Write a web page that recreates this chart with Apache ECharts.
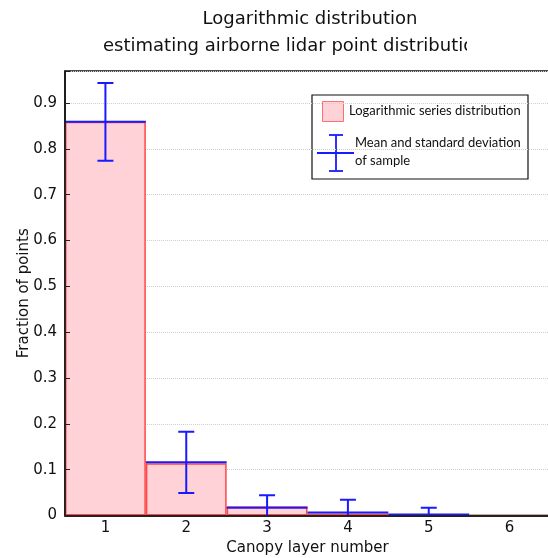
<!DOCTYPE html>
<html>
<head>
<meta charset="utf-8">
<script src="https://cdn.jsdelivr.net/npm/echarts@6/dist/echarts.min.js"></script>
<style>html,body{margin:0;padding:0;background:#fff;}#c{width:548px;height:558px;}</style>
</head>
<body>
<div id="c"></div>
<script>
const categories = ['1', '2', '3', '4', '5', '6'];
const logSeries = [0.859, 0.114, 0.020, 0.0044, 0.0009, 0.0002];
const sampleMean = [0.859, 0.116, 0.017, 0.0065, 0.002];
const sampleStd = [0.085, 0.067, 0.027, 0.028, 0.015];
const titleLine1 = 'Logarithmic distribution';
const titleLine2 = 'estimating airborne lidar point distribution';
const legendLabels = ['Logarithmic series distribution', 'Mean and standard deviation\nof sample'];

const BLUE = '#1a1aff';
const FONT = 'DejaVu Sans';

const chart = echarts.init(document.getElementById('c'), null, {renderer: 'canvas'});

const errData = sampleMean.map((m, i) => [i, m, sampleStd[i]]);

const option = {
  backgroundColor: '#fff',
  animation: false,
  grid: {
    left: 65, top: 71, width: 485, height: 444.5,
    outerBoundsMode: 'none', containLabel: false,
    show: true, borderColor: '#111', borderWidth: 1.5, backgroundColor: '#fff'
  },
  xAxis: {
    type: 'category',
    data: categories,
    boundaryGap: true,
    z: 10,
    name: 'Canopy layer number',
    nameLocation: 'middle',
    nameGap: 25,
    nameTextStyle: {fontFamily: FONT, fontSize: 15, color: '#111'},
    axisLine: {lineStyle: {color: '#222', width: 2}},
    axisTick: {inside: true, length: 5, lineStyle: {color: '#222', width: 1}},
    axisLabel: {fontFamily: FONT, fontSize: 15, color: '#111', margin: 5},
    splitLine: {show: false}
  },
  yAxis: [{
    type: 'value',
    min: 0, max: 0.97, interval: 0.1,
    position: 'left',
    name: 'Fraction of points',
    nameLocation: 'middle',
    nameGap: 33,
    nameMoveOverlap: false,
    nameTextStyle: {fontFamily: FONT, fontSize: 15, color: '#111'},
    axisLine: {show: false},
    axisTick: {show: false},
    axisLabel: {
      fontFamily: FONT, fontSize: 15, color: '#111', margin: 8,
      formatter: v => v > 0.95 ? '' : (v === 0 ? '0' : v.toFixed(1))
    },
    splitLine: {show: true, lineStyle: {color: '#cfcfcf', type: 'dotted', width: 1}}
  }, {
    type: 'value',
    min: 0, max: 0.97, interval: 0.1,
    position: 'left',
    z: 10,
    axisLine: {show: true, onZero: false, lineStyle: {color: '#111', width: 1.5}},
    axisTick: {show: true, inside: true, length: 5, lineStyle: {color: '#222', width: 1}},
    axisLabel: {show: false},
    splitLine: {show: false}
  }],
  series: [{
    name: legendLabels[0],
    type: 'bar',
    data: logSeries,
    barWidth: '100%',
    itemStyle: {color: '#ffd2d7', borderColor: '#ff4646', borderWidth: 1.5},
    z: 2
  }, {
    name: legendLabels[1],
    type: 'custom',
    data: errData,
    clip: true,
    z: 5,
    encode: {x: 0, y: 1},
    renderItem: function (params, api) {
      const i = api.value(0), m = api.value(1), s = api.value(2);
      const c = api.coord([i, m]);
      const bw = api.size([1, 0])[0];
      const top = api.coord([i, m + s]);
      const bot = api.coord([i, m - s]);
      const cap = 8;
      const st = {stroke: BLUE, lineWidth: 2, fill: null};
      return {
        type: 'group',
        children: [
          {type: 'line', shape: {x1: c[0] - bw / 2, y1: c[1], x2: c[0] + bw / 2, y2: c[1]}, style: st},
          {type: 'line', shape: {x1: c[0], y1: top[1], x2: c[0], y2: bot[1]}, style: st},
          {type: 'line', shape: {x1: c[0] - cap, y1: top[1], x2: c[0] + cap, y2: top[1]}, style: st},
          {type: 'line', shape: {x1: c[0] - cap, y1: bot[1], x2: c[0] + cap, y2: bot[1]}, style: st}
        ]
      };
    }
  }],
  graphic: [
    {type: 'text', x: 310, y: 19, z: 100,
      style: {text: titleLine1, font: '18px "DejaVu Sans"', fill: '#111', align: 'center', verticalAlign: 'middle'}},
    {type: 'text', x: 103, y: 46, z: 100,
      style: {text: titleLine2, font: '18px "DejaVu Sans"', fill: '#111', align: 'left', verticalAlign: 'middle'}},
    {type: 'rect', z: 101, shape: {x: 467, y: 32, width: 90, height: 30}, style: {fill: '#fff'}},
    {type: 'group', x: 312, y: 95, z: 100, children: [
      {type: 'rect', shape: {x: 0, y: 0, width: 216, height: 84}, style: {fill: '#fff', stroke: '#111', lineWidth: 1.2}},
      {type: 'rect', shape: {x: 10.5, y: 6.5, width: 21, height: 20}, style: {fill: '#ffd2d7', stroke: '#ff7070', lineWidth: 1}},
      {type: 'text', x: 37, y: 16, style: {text: legendLabels[0], font: '13px Lato', fill: '#111', verticalAlign: 'middle'}},
      {type: 'line', shape: {x1: 5, y1: 58, x2: 42, y2: 58}, style: {stroke: BLUE, lineWidth: 1.8}},
      {type: 'line', shape: {x1: 24, y1: 40, x2: 24, y2: 76}, style: {stroke: BLUE, lineWidth: 1.8}},
      {type: 'line', shape: {x1: 17, y1: 40, x2: 31, y2: 40}, style: {stroke: BLUE, lineWidth: 1.8}},
      {type: 'line', shape: {x1: 17, y1: 76, x2: 31, y2: 76}, style: {stroke: BLUE, lineWidth: 1.8}},
      {type: 'text', x: 43, y: 57, style: {text: legendLabels[1], font: '13px Lato', fill: '#111', verticalAlign: 'middle', lineHeight: 18}}
    ]}
  ]
};
chart.setOption(option);
</script>
</body>
</html>
